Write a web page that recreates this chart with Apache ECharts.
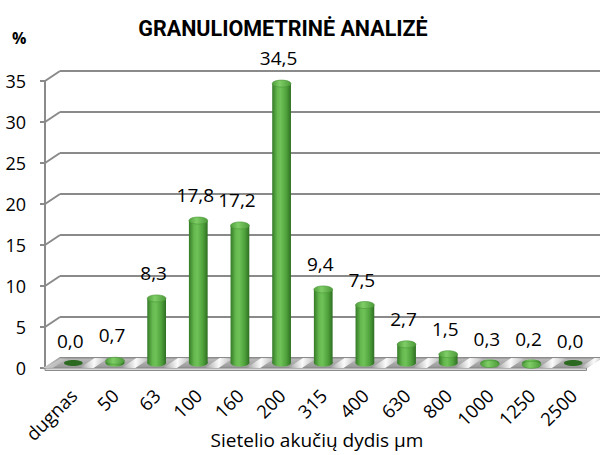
<!DOCTYPE html>
<html><head><meta charset="utf-8">
<script src="https://cdn.jsdelivr.net/npm/echarts@6/dist/echarts.min.js"></script>
<style>html,body{margin:0;padding:0;background:#fff}#c{width:600px;height:455px}</style>
</head><body><div id="c"></div>
<script>
const categories = ['dugnas','50','63','100','160','200','315','400','630','800','1000','1250','2500'];
const values = [0.0, 0.7, 8.3, 17.8, 17.2, 34.5, 9.4, 7.5, 2.7, 1.5, 0.3, 0.2, 0.0];
const yTicks = [0, 5, 10, 15, 20, 25, 30, 35];
const titleText = 'GRANULIOMETRINĖ ANALIZĖ';
const xName = 'Sietelio akučių dydis µm';
const yName = '%';

const DX = 7.5, DY = 5;          // half depth of the 3D box
const FONT = "'Open Sans', 'Noto Sans', sans-serif";
const fmt = v => v.toFixed(1).replace('.', ',');

const barFill = {type:'linear', x:0, y:0, x2:1, y2:0, colorStops:[
  {offset:0, color:'#347a27'}, {offset:0.28, color:'#66b94f'}, {offset:0.45, color:'#6fc257'},
  {offset:0.75, color:'#4fa23c'}, {offset:1, color:'#2f6f23'}]};
const capFill = {type:'linear', x:0, y:0, x2:1, y2:0, colorStops:[
  {offset:0, color:'#4f9e3c'}, {offset:0.4, color:'#7fcd66'}, {offset:1, color:'#4c9a3a'}]};

const chart = echarts.init(document.getElementById('c'), null, {renderer:'svg'});
chart.setOption({
  animation: false,
  title: {text: titleText, left: 278, top: 12, textAlign: 'center',
    textStyle: {fontFamily: "Roboto, 'Liberation Sans', sans-serif", fontWeight: 'bold', fontSize: 21.5, color: '#000'}},
  graphic: [
    {type:'text', left: 12, top: 30, style:{text: yName, fontFamily: FONT, fontWeight:'bold', fontSize: 16, fill:'#000'}},
    {type:'text', x: 317, y: 440, style:{text: xName, align:'center', verticalAlign:'middle', fontFamily: FONT, fontSize: 19, fill:'#000'}}
  ],
  grid: [
    {left: 52.5, right: 6, top: 76, bottom: 92, outerBoundsMode:'none', containLabel:false},   // mid depth: bars
    {left: 45, width: 10, top: 81, bottom: 87, outerBoundsMode:'none', containLabel:false},     // front: y axis
    {left: 60, right: -2, top: 71, bottom: 97, outerBoundsMode:'none', containLabel:false}      // back wall: gridlines
  ],
  xAxis: [
    {gridIndex:0, type:'category', data: categories,
      axisLine:{show:false}, axisTick:{show:false},
      axisLabel:{interval:0, rotate:45, margin:29, fontFamily: FONT, fontSize:18.5, color:'#000'}},
    {gridIndex:1, type:'value', min:0, max:1, show:false},
    {gridIndex:2, type:'value', min:0, max:1, show:false}
  ],
  yAxis: [
    {gridIndex:0, type:'value', min:0, max:35, interval:5, show:false},
    {gridIndex:1, type:'value', min:0, max:35, interval:5,
      axisLine:{show:true, lineStyle:{color:'#8a8a8a', width:2}},
      axisTick:{show:true, length:5, lineStyle:{color:'#8a8a8a', width:2}},
      axisLabel:{margin:19, fontFamily: FONT, fontSize:18, color:'#000'},
      splitLine:{show:false}},
    {gridIndex:2, type:'value', min:0, max:35, interval:5,
      axisLine:{show:false}, axisTick:{show:false}, axisLabel:{show:false},
      splitLine:{show:true, lineStyle:{color:'#8a8a8a', width:2}}}
  ],
  series: [
    { // diagonal connectors from front ticks to back wall
      type:'custom', xAxisIndex:1, yAxisIndex:1, silent:true, z:1,
      data: yTicks.map(v => [0, v]),
      renderItem: (params, api) => {
        const p = api.coord([0, api.value(1)]);
        return {type:'line', shape:{x1:p[0], y1:p[1], x2:p[0] + 2*DX, y2:p[1] - 2*DY},
          style:{stroke:'#8a8a8a', lineWidth:2}};
      }
    },
    { // floor
      type:'custom', xAxisIndex:0, yAxisIndex:0, silent:true, z:2,
      data: categories.map((c, i) => [i, 0]),
      renderItem: (params, api) => {
        const cs = params.coordSys;
        const i = api.value(0);
        const b = api.coord([i, 0]);
        const band = api.size([1, 0])[0];
        const yb = b[1];
        const children = [];
        if (params.dataIndex === 0) {
          const x0 = cs.x, x1 = cs.x + cs.width;
          children.push({type:'polygon', shape:{points:[[x0+DX, yb-DY],[x1+DX, yb-DY],[x1-DX, yb+DY],[x0-DX, yb+DY]]},
            style:{fill:{type:'linear', x:0, y:0, x2:0, y2:1, colorStops:[{offset:0, color:'#bdbdbd'},{offset:1, color:'#969696'}]}, stroke:'#8c8c8c', lineWidth:1.2}});
          children.push({type:'polygon', shape:{points:[[x0-DX, yb+DY],[x1-DX, yb+DY],[x1-DX, yb+DY+2.5],[x0-DX, yb+DY+2.5]]},
            style:{fill:'#d8d8d8', stroke:'#8c8c8c', lineWidth:1}});
        }
        // light sheen in the gap to the right of each bar
        const gx = b[0] + band/2;
        const hw = 7;
        children.push({type:'polygon', shape:{points:[[gx-hw-DX, yb+DY],[gx-hw+DX, yb-DY],[gx+hw+DX, yb-DY],[gx+hw-DX, yb+DY]]},
          style:{fill:{type:'linear', x:0, y:0, x2:1, y2:0, colorStops:[{offset:0, color:'rgba(255,255,255,0)'},{offset:0.5, color:'rgba(255,255,255,0.95)'},{offset:1, color:'rgba(255,255,255,0)'}]}}});
        if (i === 0) {
          const lx = b[0] - band/2;
          children.push({type:'polygon', shape:{points:[[lx-2-DX, yb+DY],[lx-2+DX, yb-DY],[lx+8+DX, yb-DY],[lx+8-DX, yb+DY]]},
            style:{fill:{type:'linear', x:0, y:0, x2:1, y2:0, colorStops:[{offset:0, color:'rgba(255,255,255,0.6)'},{offset:1, color:'rgba(255,255,255,0)'}]}}});
        }
        return {type:'group', children};
      }
    },
    { // cylinder bars + labels
      type:'custom', xAxisIndex:0, yAxisIndex:0, z:3,
      data: values.map((v, i) => [i, v]),
      renderItem: (params, api) => {
        const i = api.value(0), v = api.value(1);
        const base = api.coord([i, 0]);
        const top = api.coord([i, v]);
        const w = api.size([1, 0])[0] * 0.45;
        const cx = base[0], rx = w/2, ry = 3.5;
        const children = [];
        if (v > 0) {
          const h = Math.max(0, base[1] - (top[1] + ry));
          children.push({type:'ellipse', shape:{cx, cy:base[1], rx, ry}, style:{fill:barFill}});
          children.push({type:'rect', shape:{x:cx - rx, y:top[1] + ry, width:w, height:h}, style:{fill:barFill}});
          children.push({type:'ellipse', shape:{cx, cy:top[1] + ry, rx, ry}, style:{fill:capFill, stroke:'#4a9638', lineWidth:0.6}});
        } else {
          children.push({type:'ellipse', shape:{cx, cy:base[1], rx, ry:3}, style:{fill:'#2c6a22'}});
        }
        children.push({type:'text', style:{x:cx - 3, y:top[1] - 22, text:fmt(v), align:'center', verticalAlign:'middle',
          fontFamily: FONT, fontSize:19, fill:'#000'}});
        return {type:'group', children};
      }
    }
  ]
});
</script></body></html>
